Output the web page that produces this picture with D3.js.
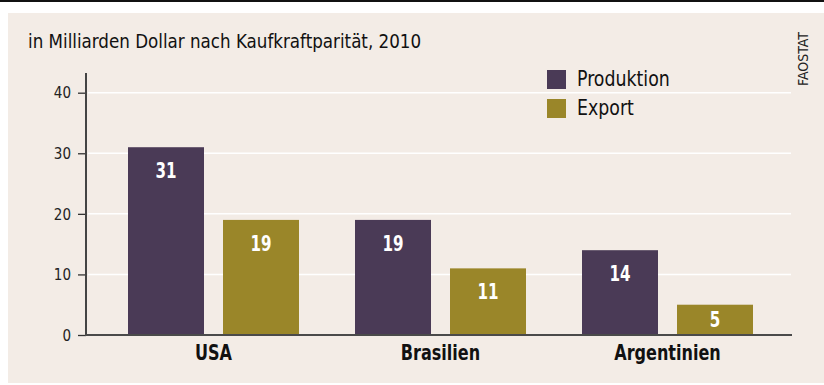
<!DOCTYPE html>
<html>
<head>
<meta charset="utf-8">
<script src="https://cdn.jsdelivr.net/npm/d3@7"></script>
<style>
  html, body { margin: 0; padding: 0; background: #ffffff; }
  svg { display: block; }
  text { font-family: "DejaVu Sans Condensed", "Liberation Sans", sans-serif; }
</style>
</head>
<body>
<svg id="chart" width="824" height="385"></svg>
<script>
// Werte in Milliarden Dollar (Kaufkraftparität), 2010
const countries = ["USA", "Brasilien", "Argentinien"];
const seriesNames = ["Produktion", "Export"];
const produktion = [31, 19, 14];
const exportValues = [19, 11, 5];
const yTicks = [0, 10, 20, 30, 40];
const seriesColors = ["#4a3a56", "#9a8629"];
const titleText = "in Milliarden Dollar nach Kaufkraftparität, 2010";
const sourceText = "FAOSTAT";

const rows = countries.map((c, i) => ({
  country: c,
  values: [produktion[i], exportValues[i]]
}));

const svg = d3.select("#chart");

// top rule and panel background
svg.append("rect").attr("x", 0).attr("y", 0).attr("width", 824).attr("height", 2).attr("fill", "#111");
svg.append("rect").attr("x", 8).attr("y", 13).attr("width", 816).attr("height", 370).attr("fill", "#f3ece6");

const y = d3.scaleLinear().domain([0, 40]).range([335, 92.7]);

const x0 = d3.scaleBand().domain(countries).range([128, 753])
  .paddingInner(56 / 227).paddingOuter(0);
const x1 = d3.scaleBand().domain(seriesNames).range([0, x0.bandwidth()])
  .paddingInner(0.2).paddingOuter(0);
const color = d3.scaleOrdinal().domain(seriesNames).range(seriesColors);

// gridlines
svg.append("g").selectAll("line").data(yTicks.filter(t => t > 0)).join("line")
  .attr("x1", 88).attr("x2", 791)
  .attr("y1", d => y(d)).attr("y2", d => y(d))
  .attr("stroke", "#ffffff").attr("stroke-width", 1.5);

// bars
const groups = svg.append("g").selectAll("g").data(rows).join("g")
  .attr("transform", d => `translate(${x0(d.country)},0)`);

const cells = d => d.values.map((v, i) => ({ key: seriesNames[i], value: v }));

groups.selectAll("rect").data(cells).join("rect")
  .attr("x", d => x1(d.key))
  .attr("width", x1.bandwidth())
  .attr("y", d => y(d.value))
  .attr("height", d => y(0) - y(d.value))
  .attr("fill", d => color(d.key));

// value labels: near the top of tall bars, centred in short ones
groups.selectAll("text.val").data(cells).join("text")
  .attr("class", "val")
  .attr("transform", d => {
    const h = y(0) - y(d.value);
    const ty = h < 45 ? y(d.value) + h / 2 + 7.5 : y(d.value) + 31;
    return `translate(${x1(d.key) + x1.bandwidth() / 2},${ty}) scale(0.8,1)`;
  })
  .attr("text-anchor", "middle")
  .attr("fill", "#ffffff")
  .attr("font-weight", "bold")
  .attr("font-size", 21)
  .text(d => d.value);

// y axis
const yAxis = d3.axisLeft(y).tickValues(yTicks).tickSize(8).tickPadding(7);
const gy = svg.append("g").attr("transform", "translate(86,0)").call(yAxis);
gy.select(".domain").remove();
gy.selectAll(".tick line").attr("stroke", "#333").attr("stroke-width", 1.3);
gy.selectAll(".tick text").attr("font-size", 15).attr("fill", "#222")
  .attr("font-family", "'Liberation Sans', sans-serif").attr("dy", "0.35em");
svg.append("line").attr("x1", 86).attr("x2", 86).attr("y1", 73).attr("y2", 336)
  .attr("stroke", "#444").attr("stroke-width", 2);

// x axis
const xAxis = d3.axisBottom(x0).tickSize(0).tickPadding(0);
const gx = svg.append("g").attr("transform", "translate(0,335)").call(xAxis);
gx.select(".domain").remove();
gx.selectAll(".tick text").attr("font-size", 21).attr("font-weight", "bold")
  .attr("fill", "#111").attr("dy", null).attr("y", 0)
  .attr("transform", "translate(0,25) scale(0.85,1)");
svg.append("line").attr("x1", 85).attr("x2", 792).attr("y1", 335).attr("y2", 335)
  .attr("stroke", "#4a4a4a").attr("stroke-width", 2);

// title
svg.append("text").attr("transform", "translate(28,48) scale(0.93,1)")
  .attr("font-size", 20).attr("fill", "#111").text(titleText);

// source, rotated
svg.append("text").attr("transform", "translate(808,32) rotate(-90)")
  .attr("text-anchor", "end").attr("font-size", 14).attr("fill", "#222").text(sourceText);

// legend
const legend = svg.append("g").selectAll("g").data(seriesNames).join("g")
  .attr("transform", (d, i) => `translate(547,${70 + i * 29})`);
legend.append("rect").attr("width", 19).attr("height", 19).attr("fill", d => color(d));
legend.append("text").attr("transform", "translate(30,16) scale(0.92,1)")
  .attr("font-size", 21).attr("fill", "#111").text(d => d);
</script>
</body>
</html>
